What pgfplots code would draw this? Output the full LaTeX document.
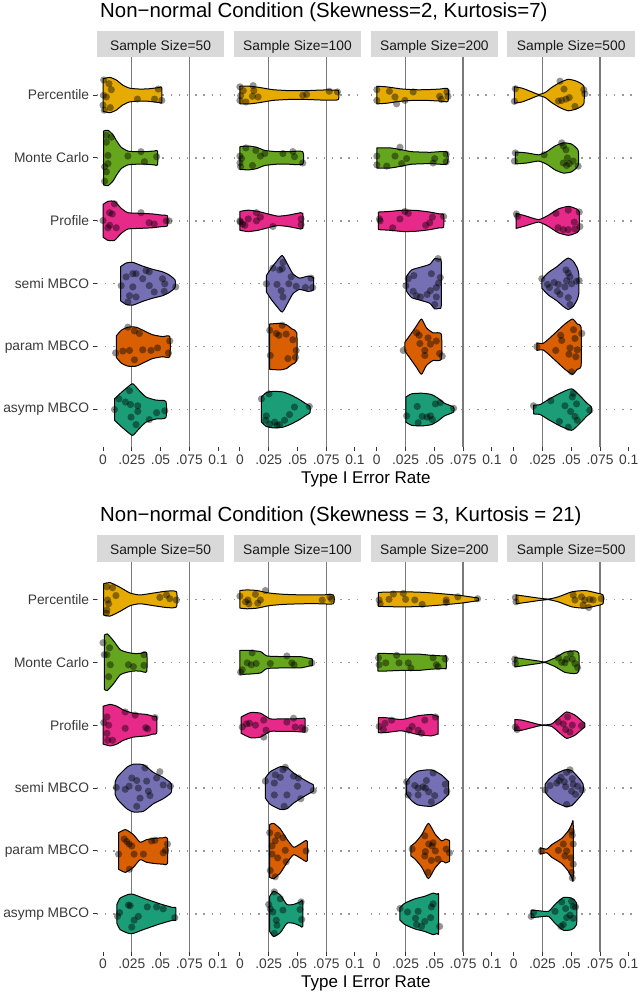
\documentclass[border=0pt]{standalone}
\usepackage{fontspec}
\setmainfont{Liberation Sans}
\usepackage{pgfplots}
\pgfplotsset{compat=1.18}

\definecolor{cP}{HTML}{E6AB02}
\definecolor{cM}{HTML}{66A61E}
\definecolor{cR}{HTML}{E7298A}
\definecolor{cS}{HTML}{7570B3}
\definecolor{cA}{HTML}{D95F02}
\definecolor{cT}{HTML}{1B9E77}
\definecolor{stripc}{HTML}{D9D9D9}
\definecolor{labc}{HTML}{3A3A3A}
\definecolor{tickc}{HTML}{333333}
\definecolor{gridc}{HTML}{9A9A9A}
\definecolor{refc}{HTML}{7A7A7A}

\newcommand\fs{\fontsize{13.8}{16}\selectfont}
\newcommand\fa{\fontsize{17}{20}\selectfont}
\newcommand\ft{\fontsize{20.4}{24}\selectfont}

% violin: centre, colour, list of x/halfwidth
\newcommand\vio[3]{%
  \gdef\vup{}\gdef\vlo{}%
  \foreach \vx/\vh in {#3}{%
    \pgfmathsetmacro\ya{#1+(\vh)}%
    \pgfmathsetmacro\yb{#1-(\vh)}%
    \xdef\vup{\vup(\vx,\ya)}%
    \xdef\vlo{(\vx,\yb)\vlo}%
  }%
  \edef\vcmd{\noexpand\addplot[vio,fill=#2] coordinates {\vup\vlo} -- cycle;}%
  \vcmd}
% jittered points: centre, list of x/offset
\newcommand\pts[2]{%
  \gdef\vpt{}%
  \foreach \qx/\qd in {#2}{%
    \pgfmathsetmacro\yy{#1+(\qd)}%
    \xdef\vpt{\vpt(\qx,\yy)}%
  }%
  \edef\vcmd{\noexpand\addplot[jit] coordinates {\vpt};}%
  \vcmd}
\newcommand\refs{%
  \addplot[refl] coordinates {(0.025,0.4) (0.025,6.6)};
  \addplot[refl] coordinates {(0.075,0.4) (0.075,6.6)};}
\newcommand\strip[3]{%
  \fill[stripc] (#1pt,-#2pt) rectangle ++(127.7pt,-26.6pt);
  \node[font=\fs, text=black!90, anchor=base] at ({#1pt+63.85pt},{-#2pt-19.3pt}) {#3};}

\pgfplotsset{
  vio/.style={draw=black, line width=1pt, line join=round, smooth, tension=0.35},
  jit/.style={only marks, mark=*, mark size=3.6pt,
    mark options={draw opacity=0, line width=0pt, fill=black, fill opacity=0.42}},
  refl/.style={refc, line width=1.4pt},
  panel/.style={scale only axis, width=127.7pt, height=390pt, anchor=north west,
    xmin=-0.0055, xmax=0.1055, ymin=0.4, ymax=6.6,
    xtick={0,0.025,0.05,0.075,0.1}, xticklabels={0,.025,.05,.075,0.1},
    ytick={1,2,3,4,5,6},
    axis line style={draw=none}, tick align=outside,
    xtick pos=left, ytick pos=left, major tick length=4pt,
    tick style={tickc, line width=1pt},
    ymajorgrids, major grid style={gridc, line width=1.3pt, dash pattern=on 1.4pt off 6.8pt},
    ticklabel style={font=\fs, text=labc},
    /pgf/number format/assume math mode=true},
  first/.style={yticklabels={asymp MBCO,param MBCO,semi MBCO,Profile,Monte Carlo,Percentile}},
  other/.style={yticklabels={}, ytick style={draw=none}},
}

\begin{document}
\begin{tikzpicture}
\path[use as bounding box] (0pt,0pt) rectangle (638pt,-994pt);

%================ top block ================
\node[anchor=base west, font=\ft] at (96.7pt,-17.5pt) {Non−normal Condition (Skewness=2, Kurtosis=7)};
\strip{96.7}{30.7}{Sample Size=50}
\strip{233.6}{30.7}{Sample Size=100}
\strip{370.5}{30.7}{Sample Size=200}
\strip{507.4}{30.7}{Sample Size=500}

\begin{axis}[panel, first, at={(96.7pt,-57.3pt)}]
\refs
\vio{6}{cP}{0/0.26, 0.006/0.28, 0.0115/0.24, 0.017/0.16, 0.023/0.11, 0.032/0.095, 0.04/0.1, 0.049/0.12, 0.051/0.12}
\pts{6}{0.0006/0.24, 0.0052/0.18, 0.0072/0.085, 0.0063/-0.2, 0/-0.16, 0.0011/-0.24, 0.0299/-0.064, 0.0448/-0.064, 0.048/0.095, 0.0511/-0.085, 0.0029/-0.03, 0.0003/-0.005}
\vio{5}{cM}{0.0006/0.43, 0.0043/0.44, 0.0086/0.37, 0.0115/0.28, 0.0158/0.17, 0.0216/0.11, 0.0287/0.1, 0.0374/0.1, 0.0445/0.11, 0.0474/0.11}
\pts{5}{0.0029/0.36, 0.0072/0.33, 0.0043/0.04, 0.0043/-0.09, 0.0029/-0.22, 0.0014/-0.37, 0.0029/0.25, 0.0216/0.03, 0.033/0.1, 0.036/-0.06, 0.0466/0.02, 0.0014/-0.14}
\vio{4}{cR}{0/0.26, 0.0043/0.31, 0.01/0.31, 0.0158/0.2, 0.0216/0.13, 0.0316/0.12, 0.043/0.11, 0.0517/0.09, 0.056/0.08}
\pts{4}{0/0.005, 0.0057/0.13, 0.008/0.11, 0.01/0.27, 0.0057/-0.07, 0.0043/-0.11, 0.0115/-0.11, 0.033/0.13, 0.0445/-0.05, 0.055/0, 0.0575/0, 0.04/-0.03}
\vio{3}{cS}{0.0152/0.27, 0.0201/0.33, 0.0259/0.34, 0.0345/0.28, 0.0431/0.23, 0.0517/0.19, 0.0575/0.14, 0.0626/0.06}
\pts{3}{0.0158/-0.03, 0.0201/0.11, 0.0216/-0.29, 0.0259/0.16, 0.0287/0.16, 0.0259/-0.05, 0.0287/-0.21, 0.0374/0.21, 0.0402/0.19, 0.0402/-0.03, 0.0445/-0.13, 0.0517/0.08, 0.0537/0, 0.0532/-0.12, 0.0632/-0.05, 0.023/-0.19, 0.0345/0.08}
\vio{2}{cA}{0.0115/0.17, 0.0158/0.26, 0.0216/0.31, 0.0287/0.31, 0.0359/0.25, 0.043/0.19, 0.0517/0.16, 0.058/0.16}
\pts{2}{0.0109/-0.1, 0.0172/-0.07, 0.023/-0.06, 0.0216/0.31, 0.0273/0.25, 0.0316/0.21, 0.0273/-0.21, 0.0345/-0.05, 0.0417/-0.06, 0.0474/-0.02, 0.058/0.09, 0.0569/-0.1}
\vio{1}{cT}{0.01/0.17, 0.0158/0.27, 0.0216/0.36, 0.0259/0.41, 0.0316/0.3, 0.0374/0.2, 0.046/0.15, 0.0546/0.13}
\pts{1}{0.01/0, 0.0138/0.17, 0.0195/0.12, 0.0239/0.08, 0.023/0.3, 0.0302/0.06, 0.0302/-0.03, 0.0287/-0.24, 0.0244/-0.12, 0.0402/-0.16, 0.0466/-0.05, 0.0537/-0.02}
\end{axis}

\begin{axis}[panel, other, at={(233.6pt,-57.3pt)}]
\refs
\vio{6}{cP}{0/0.14, 0.0086/0.14, 0.0172/0.12, 0.0287/0.085, 0.043/0.07, 0.0575/0.07, 0.0718/0.08, 0.08/0.08, 0.0856/0.07}
\pts{6}{0/0.13, 0/-0.085, 0.0029/0.07, 0.0052/-0.11, 0.0115/0.15, 0.0121/0.07, 0.0109/-0.02, 0.0158/-0.03, 0.0546/-0.005, 0.058/0.01, 0.0776/0.06, 0.0848/0.05, 0.0006/-0.01}
\vio{5}{cM}{0/0.18, 0.0072/0.19, 0.0144/0.17, 0.0216/0.12, 0.0316/0.1, 0.043/0.1, 0.0546/0.1}
\pts{5}{0/0.03, 0/-0.08, 0.0006/-0.14, 0.0014/-0.01, 0.0052/0.16, 0.0109/-0.12, 0.0138/0.12, 0.0178/0.03, 0.0216/0.07, 0.0374/0.07, 0.046/0.1, 0.0474/0.02, 0.0546/-0.08}
\vio{4}{cR}{0/0.15, 0.0072/0.17, 0.0158/0.15, 0.0244/0.11, 0.033/0.075, 0.0417/0.09, 0.0503/0.12, 0.0546/0.12}
\pts{4}{0/0, 0.0023/-0.05, 0.0043/-0.07, 0.0072/0.03, 0.0144/0.13, 0.0144/0, 0.0178/0.06, 0.0287/-0.09, 0.0532/0.03, 0.0532/-0.06, 0.0003/-0.02}
\vio{3}{cS}{0.023/0.13, 0.0273/0.25, 0.0316/0.35, 0.0368/0.45, 0.0417/0.3, 0.046/0.16, 0.0517/0.09, 0.0589/0.12, 0.0638/0.1}
\pts{3}{0.023/0, 0.0287/0.25, 0.0345/0.22, 0.0374/0.34, 0.0368/0.24, 0.0359/-0.11, 0.0374/-0.21, 0.0425/0, 0.0445/0.11, 0.0489/-0.04, 0.0569/-0.06, 0.0618/0.09, 0.0632/-0.06, 0.0322/-0.01}
\vio{2}{cA}{0.0259/0.36, 0.0345/0.37, 0.0402/0.35, 0.0454/0.28, 0.0494/0.22}
\pts{2}{0.0259/0.26, 0.0316/0.21, 0.0339/0.18, 0.0368/0.34, 0.0402/0.2, 0.046/0.11, 0.0489/-0.06, 0.0483/-0.17, 0.0264/-0.14, 0.0417/-0.19}
\vio{1}{cT}{0.0187/0.2, 0.023/0.27, 0.0287/0.29, 0.0374/0.28, 0.0445/0.23, 0.0517/0.16, 0.0575/0.09, 0.0609/0.05}
\pts{1}{0.0187/0.17, 0.0253/0.25, 0.023/-0.1, 0.0224/-0.17, 0.0259/-0.23, 0.0302/-0.2, 0.0322/-0.25, 0.0345/-0.24, 0.0388/-0.17, 0.0431/-0.08, 0.0474/0.04, 0.0603/0.05}
\end{axis}

\begin{axis}[panel, other, at={(370.5pt,-57.3pt)}]
\refs
\vio{6}{cP}{0/0.14, 0.0086/0.13, 0.0201/0.1, 0.0316/0.085, 0.043/0.085, 0.0546/0.095, 0.0618/0.1}
\pts{6}{0/0.085, 0/-0.085, 0.0109/0.06, 0.0158/-0.03, 0.0172/-0.14, 0.0244/-0.085, 0.0316/0.05, 0.0546/-0.02, 0.056/-0.07, 0.0609/0.05, 0.0618/-0.02}
\vio{5}{cM}{0/0.16, 0.0115/0.16, 0.0216/0.13, 0.0302/0.1, 0.046/0.09, 0.0609/0.095}
\pts{5}{0/0.03, 0/-0.11, 0.0086/-0.13, 0.0158/0.03, 0.0201/0.17, 0.0216/-0.09, 0.0259/-0.01, 0.0489/-0.08, 0.0503/-0.01, 0.0603/0.06, 0.0603/-0.06}
\vio{4}{cR}{0.0014/0.14, 0.0115/0.15, 0.023/0.17, 0.0345/0.165, 0.046/0.14, 0.0546/0.11, 0.058/0.1}
\pts{4}{0.0023/0.03, 0.0029/0, 0.0138/-0.11, 0.0201/0.03, 0.0244/0.15, 0.0273/0.12, 0.0425/-0.07, 0.046/-0.03, 0.0483/0.06, 0.058/0.07}
\vio{3}{cS}{0.0259/0.12, 0.0302/0.22, 0.0374/0.26, 0.046/0.31, 0.0503/0.4, 0.054/0.39, 0.056/0.35}
\pts{3}{0.0253/-0.03, 0.0273/0.08, 0.0322/0.13, 0.0316/-0.12, 0.0345/-0.19, 0.0379/-0.21, 0.0437/-0.17, 0.0466/-0.11, 0.0474/0.16, 0.0503/-0.33, 0.0517/-0.06, 0.0537/0.01, 0.0552/0.1, 0.0532/0.4, 0.0517/-0.21}
\vio{2}{cA}{0.0244/0.07, 0.0287/0.18, 0.0345/0.33, 0.0388/0.44, 0.0431/0.3, 0.0489/0.22, 0.056/0.2}
\pts{2}{0.023/-0.06, 0.0345/0.22, 0.0368/0.18, 0.0374/0.05, 0.0417/-0.06, 0.0417/-0.14, 0.0445/0.14, 0.0466/0.04, 0.0517/0.09, 0.0546/-0.11, 0.0569/-0.15}
\vio{1}{cT}{0.0253/0.2, 0.0302/0.25, 0.0388/0.26, 0.0474/0.24, 0.0532/0.18, 0.0589/0.1, 0.0667/0.04}
\pts{1}{0.0259/-0.1, 0.0351/0.05, 0.0359/-0.21, 0.0394/-0.11, 0.0437/-0.12, 0.0466/-0.1, 0.0483/-0.16, 0.0509/0.09, 0.0552/0.11, 0.0667/0.02}
\end{axis}

\begin{axis}[panel, other, at={(507.4pt,-57.3pt)}]
\refs
\vio{6}{cP}{0.0006/0.13, 0.0072/0.11, 0.0144/0.06, 0.0216/0.01, 0.0273/0.04, 0.033/0.12, 0.0402/0.2, 0.0474/0.25, 0.0546/0.22, 0.0609/0.14}
\pts{6}{0.0014/0.1, 0.0006/-0.1, 0.0402/0.22, 0.0437/0.095, 0.0388/-0.095, 0.0417/-0.085, 0.0454/-0.065, 0.0483/-0.04, 0.0532/-0.18, 0.0609/0.085, 0.0618/0.02}
\vio{5}{cM}{0.0014/0.095, 0.0115/0.08, 0.0216/0.05, 0.0287/0.1, 0.0359/0.19, 0.0431/0.24, 0.0503/0.22, 0.056/0.12}
\pts{5}{0.0014/0.08, 0.0006/-0.05, 0.0264/0.05, 0.0417/0.24, 0.0431/0.19, 0.0454/0.13, 0.0466/0, 0.0431/-0.08, 0.046/-0.12, 0.0483/-0.09, 0.0517/-0.05, 0.056/-0.13}
\vio{4}{cR}{0.002/0.12, 0.0101/0.08, 0.0216/0.02, 0.0302/0.09, 0.0388/0.19, 0.0474/0.23, 0.0532/0.2, 0.0569/0.15}
\pts{4}{0.0023/0.11, 0.0034/0.07, 0.0368/0.12, 0.0474/0.17, 0.0385/-0.11, 0.0431/-0.14, 0.0474/-0.14, 0.0526/-0.02, 0.0532/-0.13, 0.0569/0.14, 0.0575/-0.09}
\vio{3}{cS}{0.0244/0.07, 0.0302/0.18, 0.0374/0.27, 0.0431/0.36, 0.0474/0.41, 0.0517/0.36, 0.0552/0.25, 0.0566/0.15}
\pts{3}{0.0244/0.08, 0.0293/-0.01, 0.031/-0.06, 0.0351/0.02, 0.0388/-0.01, 0.0379/-0.12, 0.0402/-0.17, 0.0445/-0.05, 0.046/0.05, 0.0474/0.17, 0.0489/0.11, 0.0503/0, 0.0474/-0.22, 0.0489/-0.33, 0.0546/0.04, 0.0569/0.05, 0.0454/0.22}
\vio{2}{cA}{0.0201/0.06, 0.0253/0.05, 0.0302/0.12, 0.0374/0.24, 0.0445/0.36, 0.0511/0.44, 0.0552/0.36, 0.0586/0.3}
\pts{2}{0.0201/0, 0.0365/-0.06, 0.0408/0.18, 0.0417/0.1, 0.048/-0.12, 0.0489/-0.02, 0.052/0.27, 0.0532/0.13, 0.0552/-0.05, 0.054/-0.16, 0.0592/0.21, 0.0503/-0.4}
\vio{1}{cT}{0.0172/0.07, 0.023/0.08, 0.0302/0.16, 0.0402/0.26, 0.0503/0.33, 0.0575/0.22, 0.0632/0.11, 0.0675/0.04}
\pts{1}{0.0172/0.06, 0.0322/0.14, 0.0397/-0.19, 0.0445/0.06, 0.0494/-0.03, 0.0509/0.2, 0.0517/0.26, 0.0546/0.09, 0.0532/-0.11, 0.0552/-0.17, 0.0474/-0.28, 0.0661/-0.01}
\end{axis}
\node[anchor=base, font=\fa] at (365.9pt,-483.3pt) {Type I Error Rate};

%================ bottom block ================
\node[anchor=base west, font=\ft] at (96.7pt,-521.7pt) {Non−normal Condition (Skewness = 3, Kurtosis = 21)};
\strip{96.7}{535}{Sample Size=50}
\strip{233.6}{535}{Sample Size=100}
\strip{370.5}{535}{Sample Size=200}
\strip{507.4}{535}{Sample Size=500}

\begin{axis}[panel, first, at={(96.7pt,-561.6pt)}]
\refs
\vio{6}{cP}{0.0006/0.25, 0.0063/0.265, 0.0149/0.19, 0.0236/0.1, 0.0322/0.07, 0.0437/0.1, 0.0552/0.13, 0.0638/0.12}
\pts{6}{0.0034/0.2, 0.0083/0.185, 0.0112/0.06, 0.004/-0.01, 0.0049/-0.07, 0.0034/-0.17, 0.0029/-0.22, 0.0494/0.03, 0.0552/0.07, 0.058/0.01, 0.0638/-0.01}
\vio{5}{cM}{0.0011/0.43, 0.0037/0.45, 0.0092/0.34, 0.0149/0.2, 0.0207/0.16, 0.0264/0.14, 0.0322/0.14, 0.0379/0.15}
\pts{5}{0/0.31, 0.0011/0.12, 0.0034/0.12, 0.0057/0.23, 0.0063/-0.04, 0.0049/-0.23, 0.0221/-0.04, 0.0264/-0.07, 0.0356/0.12, 0.0356/-0.05}
\vio{4}{cR}{0/0.3, 0.0063/0.33, 0.0121/0.3, 0.0178/0.24, 0.0264/0.19, 0.0379/0.17, 0.0437/0.14, 0.0466/0.13}
\pts{4}{0.0006/0.04, 0.0034/0.13, 0.0049/0, 0.0034/-0.13, 0.004/-0.24, 0.0083/-0.24, 0.0193/0.21, 0.0193/-0.05, 0.0279/0.16, 0.0371/-0.04, 0.0388/-0.06, 0.0451/0.12}
\vio{3}{cS}{0.0106/0.1, 0.0126/0.18, 0.0207/0.33, 0.0264/0.38, 0.0351/0.37, 0.0437/0.25, 0.0523/0.17, 0.0584/0.09, 0.0595/0.06}
\pts{3}{0.0115/0.01, 0.0193/-0.02, 0.0227/0.03, 0.025/0.16, 0.0293/0.12, 0.0307/0, 0.0365/0.32, 0.0379/0.11, 0.0394/-0.05, 0.0408/-0.12, 0.0322/-0.16, 0.0293/-0.29, 0.0494/0.26, 0.0523/0.05, 0.0586/0.03, 0.0466/0.16}
\vio{2}{cA}{0.0135/0.29, 0.0195/0.34, 0.0264/0.26, 0.0322/0.14, 0.0379/0.18, 0.045/0.2, 0.0523/0.21, 0.056/0.2}
\pts{2}{0.0135/-0.05, 0.0184/0.19, 0.0207/0.15, 0.0227/0.11, 0.025/0.08, 0.027/-0.05, 0.023/-0.29, 0.0351/-0.05, 0.0422/0.16, 0.0451/0.17, 0.0523/-0.03, 0.0543/0.01, 0.056/0.11}
\vio{1}{cT}{0.0121/0.15, 0.0149/0.25, 0.0221/0.31, 0.0264/0.31, 0.0351/0.25, 0.0494/0.16, 0.0609/0.1, 0.0632/0.1}
\pts{1}{0.0126/-0.04, 0.0144/0.02, 0.0221/0.14, 0.0236/0.13, 0.027/-0.1, 0.025/-0.21, 0.0385/0.11, 0.0466/0.11, 0.0523/0.08, 0.0624/-0.06, 0.0307/-0.04}
\end{axis}

\begin{axis}[panel, other, at={(233.6pt,-561.6pt)}]
\refs
\vio{6}{cP}{0/0.14, 0.0063/0.15, 0.0149/0.14, 0.0256/0.1, 0.0379/0.08, 0.0552/0.07, 0.07/0.07, 0.0812/0.07}
\pts{6}{0/0.05, 0.0049/-0.04, 0.0069/-0.01, 0.0078/-0.07, 0.0155/-0.06, 0.0178/-0.01, 0.0221/0.14, 0.0135/0.08, 0.0715/-0.01, 0.0782/0.04, 0.0796/0}
\vio{5}{cM}{0/0.19, 0.0063/0.19, 0.0178/0.17, 0.0236/0.1, 0.0379/0.09, 0.0523/0.09, 0.0606/0.06, 0.0629/0.05}
\pts{5}{0.0006/-0.16, 0.002/-0.12, 0.0063/-0.01, 0.0106/0.15, 0.0098/-0.04, 0.0141/-0.02, 0.0264/-0.02, 0.0408/0.1, 0.0451/-0.01, 0.0471/-0.04, 0.0624/-0.01}
\vio{4}{cR}{0.0011/0.13, 0.0092/0.2, 0.0178/0.19, 0.0264/0.1, 0.0351/0.1, 0.0466/0.1, 0.0554/0.11, 0.0566/0.1}
\pts{4}{0.002/-0.03, 0.0057/0.02, 0.0083/0.03, 0.0135/0, 0.0207/0.08, 0.0227/-0.08, 0.0207/-0.19, 0.0408/0.05, 0.0466/0.11, 0.048/-0.03, 0.0537/-0.04, 0.0566/-0.07}
\vio{3}{cS}{0.0221/0.16, 0.0264/0.26, 0.0351/0.34, 0.0408/0.33, 0.0466/0.24, 0.0551/0.14, 0.0609/0.08, 0.0638/0.05}
\pts{3}{0.0221/0.11, 0.0299/0.08, 0.0307/0.21, 0.0351/0.17, 0.0374/0.29, 0.0394/0.33, 0.0466/0.19, 0.0509/0.16, 0.05/0.03, 0.0408/-0.11, 0.0385/-0.29, 0.0299/-0.11, 0.0529/-0.17, 0.0638/-0.04}
\vio{2}{cA}{0.0259/0.42, 0.0293/0.44, 0.0351/0.35, 0.0408/0.19, 0.0466/0.06, 0.0523/0.11, 0.0566/0.16, 0.0586/0.15}
\pts{2}{0.0259/0.29, 0.0264/-0.31, 0.0279/0.08, 0.0307/0.16, 0.0328/0.25, 0.0374/0.21, 0.0328/-0.11, 0.0307/-0.41, 0.0394/0.01, 0.0402/-0.17, 0.0575/0, 0.0279/-0.05}
\vio{1}{cT}{0.0259/0.28, 0.0293/0.36, 0.0351/0.3, 0.0408/0.15, 0.0466/0.15, 0.0523/0.19, 0.0546/0.2}
\pts{1}{0.025/0.15, 0.0264/0.08, 0.0287/0.03, 0.0299/0.35, 0.0351/0.24, 0.0374/0.06, 0.0316/-0.1, 0.0322/-0.18, 0.0299/-0.31, 0.0532/0.19, 0.0537/-0.09, 0.0523/0.07}
\end{axis}

\begin{axis}[panel, other, at={(370.5pt,-561.6pt)}]
\refs
\vio{6}{cP}{0.0014/0.11, 0.0072/0.115, 0.0244/0.12, 0.0417/0.11, 0.0589/0.085, 0.0733/0.06, 0.0848/0.03, 0.0882/0.02}
\pts{6}{0.002/-0.01, 0.0029/-0.07, 0.0106/0, 0.0144/0.085, 0.023/0.095, 0.025/0, 0.033/-0.01, 0.0394/-0.08, 0.0603/-0.01, 0.0603/-0.05, 0.0704/0.04, 0.0876/0.01}
\vio{5}{cM}{0.0009/0.14, 0.0072/0.14, 0.0216/0.13, 0.0359/0.13, 0.0474/0.11, 0.0589/0.1, 0.0603/0.1}
\pts{5}{0.0014/0.07, 0.002/-0.04, 0.0078/-0.01, 0.0172/0.11, 0.0193/-0.01, 0.0273/-0.01, 0.0296/-0.09, 0.0489/0.07, 0.0517/-0.04, 0.0532/-0.07, 0.0595/0.05}
\vio{4}{cR}{0.0014/0.12, 0.0072/0.12, 0.0216/0.09, 0.0359/0.15, 0.0474/0.17, 0.053/0.14, 0.0532/0.13}
\pts{4}{0.002/-0.02, 0.0057/-0.07, 0.0072/0.03, 0.0129/0.08, 0.0279/-0.08, 0.0307/-0.02, 0.0359/-0.08, 0.0388/-0.13, 0.0417/0.08, 0.0509/0.13}
\vio{3}{cS}{0.0259/0.1, 0.0302/0.2, 0.0359/0.27, 0.0474/0.29, 0.0561/0.21, 0.0618/0.11, 0.0624/0.1}
\pts{3}{0.0259/0.1, 0.0273/-0.11, 0.033/0.04, 0.0359/0, 0.0402/0.02, 0.0422/0, 0.0431/0.12, 0.0451/-0.06, 0.0489/0.24, 0.0503/-0.12, 0.0595/0.06, 0.0609/-0.05, 0.0359/-0.11, 0.0474/-0.22}
\vio{2}{cA}{0.0296/0.08, 0.0333/0.13, 0.0391/0.26, 0.0448/0.44, 0.0506/0.27, 0.0563/0.16, 0.0597/0.19, 0.0626/0.17, 0.0632/0.15}
\pts{2}{0.0307/0.03, 0.0417/0.24, 0.0451/0.11, 0.048/0.08, 0.0422/-0.01, 0.0509/0, 0.0489/0.13, 0.0417/-0.08, 0.0445/-0.34, 0.0532/-0.13, 0.0603/0.03, 0.0632/-0.03, 0.0474/-0.15}
\vio{1}{cT}{0.0201/0.1, 0.0244/0.17, 0.0332/0.24, 0.0417/0.28, 0.0489/0.33, 0.0526/0.31, 0.0537/0.3}
\pts{1}{0.0201/0.085, 0.0267/0.03, 0.0336/-0.07, 0.0345/-0.17, 0.0359/0.04, 0.0388/-0.2, 0.0417/-0.12, 0.0468/-0.06, 0.0474/0.11, 0.0489/0.16, 0.0546/-0.2}
\end{axis}

\begin{axis}[panel, other, at={(507.4pt,-561.6pt)}]
\refs
\vio{6}{cP}{0.002/0.07, 0.0101/0.05, 0.0216/0.02, 0.0302/0.005, 0.0388/0.04, 0.0506/0.12, 0.0621/0.14, 0.0724/0.1, 0.0776/0.07}
\pts{6}{0.0014/0.03, 0.002/-0.04, 0.0517/0.07, 0.0532/-0.01, 0.0589/0.04, 0.0603/-0.09, 0.0618/-0.01, 0.0652/-0.13, 0.0661/0, 0.069/-0.01, 0.0761/0.01}
\vio{5}{cM}{0.0009/0.075, 0.0101/0.05, 0.0216/0.02, 0.0273/0.005, 0.0359/0.07, 0.0445/0.16, 0.0532/0.18, 0.0566/0.14}
\pts{5}{0.0009/0.05, 0.0014/-0.02, 0.0388/0.07, 0.0417/0, 0.0445/-0.01, 0.046/0.05, 0.0494/0.14, 0.0509/0.05, 0.0532/-0.02, 0.0555/-0.085}
\vio{4}{cR}{0.0009/0.09, 0.0072/0.08, 0.0158/0.04, 0.0244/0.003, 0.033/0.02, 0.0402/0.13, 0.046/0.21, 0.0532/0.16, 0.0603/0.05, 0.0618/0.03}
\pts{4}{0.0014/-0.03, 0.0029/-0.07, 0.0388/0.05, 0.0431/0.02, 0.0468/0.13, 0.0451/-0.07, 0.0489/-0.11, 0.0509/0, 0.0589/-0.01}
\vio{3}{cS}{0.0273/0.06, 0.0302/0.13, 0.0359/0.22, 0.0445/0.29, 0.0503/0.28, 0.0575/0.14, 0.0603/0.06}
\pts{3}{0.0273/-0.03, 0.0316/0.04, 0.0374/0.08, 0.0394/0.12, 0.0411/0.17, 0.044/0.1, 0.0451/0.02, 0.046/0.25, 0.0489/0.29, 0.0509/0.15, 0.0517/0.06, 0.0503/-0.05, 0.0537/-0.1, 0.0555/0.03, 0.0595/-0.03, 0.046/-0.26}
\vio{2}{cA}{0.023/0.05, 0.0287/0.03, 0.033/0.1, 0.0417/0.2, 0.0474/0.32, 0.0503/0.42, 0.0517/0.45}
\pts{2}{0.0239/0, 0.0388/0.01, 0.0431/0.11, 0.0445/-0.08, 0.046/0, 0.0503/0.31, 0.0509/0.25, 0.0517/0.11, 0.0497/-0.11, 0.0517/-0.21, 0.0503/-0.34, 0.0509/-0.43}
\vio{1}{cT}{0.0152/0.06, 0.0216/0.05, 0.0302/0.04, 0.0359/0.15, 0.0431/0.26, 0.0503/0.25, 0.0546/0.17}
\pts{1}{0.0152/-0.04, 0.0172/0.02, 0.0359/0.04, 0.0417/0.19, 0.0451/0.085, 0.046/-0.06, 0.0431/-0.17, 0.0411/-0.2, 0.0503/0.2, 0.0517/0.12, 0.0537/0.11, 0.0489/-0.02, 0.0517/-0.07}
\end{axis}
\node[anchor=base, font=\fa] at (365.9pt,-987.3pt) {Type I Error Rate};
\end{tikzpicture}
\end{document}
